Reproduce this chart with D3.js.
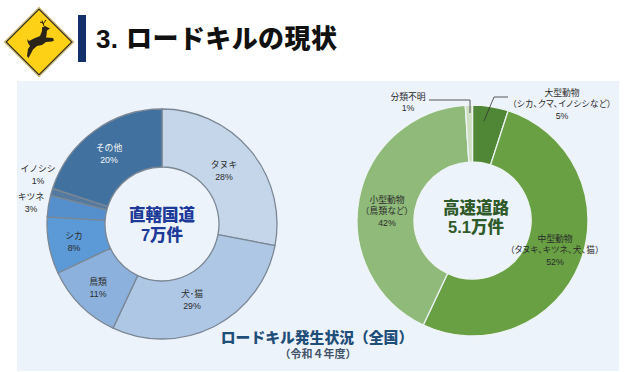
<!DOCTYPE html>
<html>
<head>
<meta charset="utf-8">
<script src="https://cdn.jsdelivr.net/npm/d3@7"></script>
<style>
	html, body { margin: 0; padding: 0; background: #fff; }
	svg { display: block; }
	text { font-family: "Liberation Sans", "Noto Sans CJK JP", sans-serif; text-anchor: middle; dominant-baseline: central; }
	.lbl { font-size: 8.8px; fill: #2b2b2b; }
	.sub { font-feature-settings: "palt"; font-size: 8.6px; letter-spacing: 0.35px; }
</style>
</head>
<body>
<div id="chart"></div>
<script>
// Data
var localNames = ['タヌキ', '犬･猫', '鳥類', 'シカ', 'キツネ', 'イノシシ', 'その他'];
var localValues = [28, 29, 11, 8, 3, 1, 20];
var highwayNames = ['大型動物', '中型動物', '小型動物', '分類不明'];
var highwaySubs = ['(シカ、クマ、イノシシなど)', '(タヌキ、キツネ、犬、猫)', '(鳥類など)', ''];
var highwayValues = [5, 52, 42, 1];

// Colours, same order as the data
var localColors = ['#c5d6ea', '#aec7e5', '#8db1dd', '#5b9ad6', '#5690cc', '#557a9f', '#41719f'];
var highwayColors = ['#4f8736', '#68a043', '#8fba79', '#cfe0c2'];

// Label centres, same order as the data
var localLabelPos = [[224, 165], [192, 294], [98, 282], [74, 236], [31, 197], [38, 169], [109, 148]];
var highwayLabelPos = [[562, 93], [555, 239], [387, 200], [408, 97]];

var width = 640, height = 372;

var svg = d3.select('#chart').append('svg')
	.attr('width', width)
	.attr('height', height);

// Panel
svg.append('rect')
	.attr('x', 17).attr('y', 81)
	.attr('width', 602).attr('height', 290)
	.attr('fill', '#edf3fb');

// Road sign
var sign = svg.append('g');
function diamond(r) {
	return 'M39 ' + (42 - r) + 'L' + (39 + r) + ' 42L39 ' + (42 + r) + 'L' + (39 - r) + ' 42Z';
}
sign.append('path').attr('d', diamond(35.5)).attr('fill', '#cdbb7c');
sign.append('path').attr('d', diamond(33.5)).attr('fill', '#22201a');
sign.append('path').attr('d', diamond(32)).attr('fill', '#fdd116');
sign.append('path')
	.attr('fill', '#2a2518')
	.attr('d', 'M27 39L29 41L34 38.5L40 36L42 31L42 27.5L45 26L50 28.5L47 30.5L46.5 35L46 37.5L53 38L54 40.5L52 41.5L46 42L42 45L37 46L33 49.5L28.5 58L27 56L28 49L30 46L28 43Z');
sign.append('path')
	.attr('fill', 'none').attr('stroke', '#2a2518').attr('stroke-width', 1)
	.attr('d', 'M44 26L42 20.5M43 24L46 20M43 23L40 22');

// Title
svg.append('rect')
	.attr('x', 78).attr('y', 15)
	.attr('width', 8).attr('height', 47)
	.attr('fill', '#14306c');
svg.append('text')
	.attr('x', 96).attr('y', 39)
	.style('text-anchor', 'start')
	.style('font-size', '26px')
	.style('font-weight', 900)
	.style('letter-spacing', '0.4px')
	.style('fill', '#111')
	.text('3. ロードキルの現状');

function donut(cx, cy, outer, inner, values, colors, stroke, strokeWidth) {
	var pie = d3.pie().sort(null).value(function(d) { return d; });
	var arc = d3.arc().outerRadius(outer).innerRadius(inner);
	var g = svg.append('g').attr('transform', 'translate(' + cx + ',' + cy + ')');
	g.selectAll('path')
		.data(pie(values))
		.enter().append('path')
		.attr('d', arc)
		.attr('fill', function(d, i) { return colors[i]; })
		.attr('stroke', stroke)
		.attr('stroke-width', strokeWidth);
}

donut(162, 224, 115, 57, localValues, localColors, '#7b8794', 1.3);
donut(472.5, 220.5, 115.5, 58.5, highwayValues, highwayColors, '#eef4f6', 1.3);

// Multi line label as one text element, so the lines stay together
function block(x, y, gap, lines, fill, cls) {
	var t = svg.append('text').attr('class', cls || 'lbl').attr('x', x).attr('y', y);
	if (fill) t.style('fill', fill);
	lines.forEach(function(line, i) {
		t.append('tspan')
			.attr('x', x)
			.attr('y', y + i * gap)
			.attr('class', line.cls || null)
			.text(line.str || line);
	});
	return t;
}

// Left labels
localNames.forEach(function(name, i) {
	var p = localLabelPos[i];
	var fill = name === 'その他' ? '#f4f7fb' : '#2b2b2b';
	block(p[0], p[1], 11.5, [name, localValues[i] + '%'], fill);
});

// Right labels
highwayNames.forEach(function(name, i) {
	var p = highwayLabelPos[i];
	var lines = [name];
	if (highwaySubs[i]) lines.push({str: highwaySubs[i].replace('(', '（').replace(')', '）'), cls: 'sub'});
	lines.push(highwayValues[i] + '%');
	block(p[0], p[1], 11.3, lines);
});

// Leader lines
svg.append('path')
	.attr('fill', 'none').attr('stroke', '#555').attr('stroke-width', 1)
	.attr('d', 'M429 100L470 100L470 113');
svg.append('path')
	.attr('fill', 'none').attr('stroke', '#333').attr('stroke-width', 0.8)
	.attr('d', 'M484 121L494 97L508 97');

// Centre text
function centre(x, y, gap, size, color, lines) {
	block(x, y, gap, lines, color, 'big')
		.style('font-size', size + 'px')
		.style('font-weight', 900);
}
centre(162, 215, 20, 16.5, '#1d3a98', ['直轄国道', '7万件']);
centre(476, 208, 19, 16.5, '#2f5a2a', ['高速道路', '5.1万件']);

// Bottom caption
var caption = block(317, 338, 16, ['ロードキル発生状況（全国）'], '#1f4e79', 'big')
	.style('font-size', '14.8px')
	.style('font-weight', 900);
caption.append('tspan')
	.attr('x', 318).attr('y', 354)
	.style('font-size', '11px')
	.style('font-weight', 700)
	.style('fill', '#44546a')
	.text('（令和４年度）');
</script>
</body>
</html>
